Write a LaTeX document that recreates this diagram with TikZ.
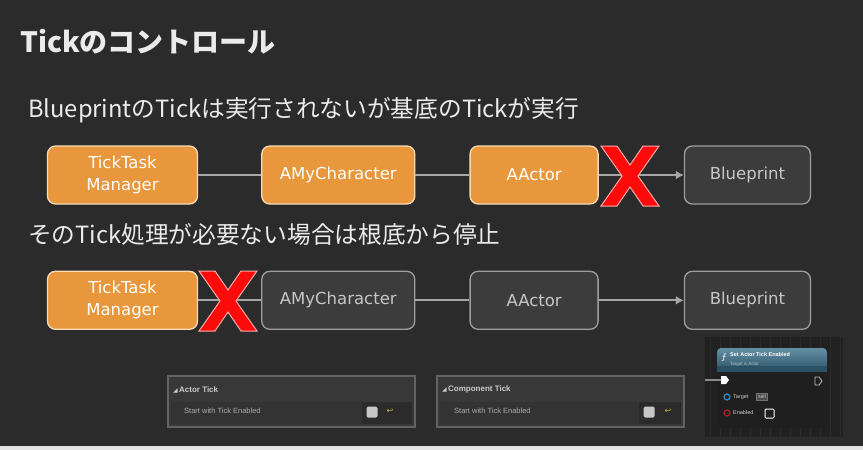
\documentclass[tikz,border=0pt]{standalone}
\usepackage{fontspec}
\setmainfont{Noto Sans CJK JP}
\newfontfamily\boxfont{DejaVu Sans}
\newfontfamily\uifont{Liberation Sans}
\usetikzlibrary{arrows.meta,positioning}
\definecolor{cBack}{HTML}{2B2B2B}
\definecolor{cOrange}{HTML}{E8973C}
\definecolor{cSlate}{HTML}{3C3C3C}
\definecolor{cWire}{HTML}{A6A6A6}
\definecolor{cRed}{HTML}{FF0A0A}
\definecolor{cPanel}{HTML}{383838}
\definecolor{cPanelEdge}{HTML}{626262}
\definecolor{cReset}{HTML}{C8B83C}
\definecolor{cBpHead}{HTML}{3D7490}
\definecolor{cPinBlue}{HTML}{2E8FC8}
\definecolor{cPinRed}{HTML}{B02020}

\begin{document}
\begin{tikzpicture}[x=1pt,y=-1pt,
  font=\boxfont,
  >={Latex[length=8pt,width=9pt]},
  tickbox/.style={rounded corners=8pt,align=center,minimum height=58pt,inner sep=2pt,
                  line width=1.3pt,font=\boxfont\fontsize{16.5}{22}\selectfont},
  hot/.style={tickbox,draw=cOrange!35!white,fill=cOrange,text=white},
  idle/.style={tickbox,draw=white!62!black,fill=cSlate,text=white!78!black},
  wire/.style={draw=cWire,line width=2.2pt},
  headline/.style={anchor=west,text=white!92!black,inner sep=0pt},
  nogo/.pic={\filldraw[draw=cRed!35!white,fill=cRed,line width=1pt]
     (-29,-30) -- (-13,-30) -- (0,-11) -- (13,-30) -- (29,-30) -- (8,0) -- (29,30)
     -- (13,30) -- (0,11) -- (-13,30) -- (-29,30) -- (-8,0) -- cycle;},
  panelhead/.style={anchor=west,inner sep=0pt,text=white!80!black,
                    font=\uifont\bfseries\fontsize{8}{9}\selectfont},
  panelrow/.style={anchor=west,inner sep=0pt,text=white!68!black,
                   font=\uifont\fontsize{7.5}{9}\selectfont},
  checkbox/.style={fill=white!78!black,rounded corners=1.5pt,minimum size=11pt,inner sep=0pt},
  bptext/.style={anchor=west,inner sep=0pt,text=white!80!black,font=\uifont\fontsize{4.5}{5}\selectfont}
]
\useasboundingbox (0,0) rectangle (863,450);
\fill[cBack] (0,0) rectangle (863,450);
\fill[white!90!black] (0,446) rectangle (863,450);

% headings
\node[headline,font=\fontsize{28}{32}\selectfont\bfseries] (title) at (20,42) {Tickのコントロール};
\node[headline,font=\fontsize{23.7}{28}\selectfont] (line1) at (28,110) {BlueprintのTickは実行されないが基底のTickが実行};
\node[headline,font=\fontsize{23.7}{28}\selectfont] (line2) at (28,234) {そのTick処理が必要ない場合は根底から停止};

% row 1
\node[hot,minimum width=150pt] (a1) at (122.5,175) {TickTask\\Manager};
\node[hot,minimum width=153pt,right=63pt of a1] (a2) {AMyCharacter};
\node[hot,minimum width=128pt,right=54pt of a2] (a3) {AActor};
\node[idle,minimum width=126pt,right=85pt of a3] (a4) {Blueprint};

\draw[wire] (a1) -- (a2);
\draw[wire] (a2) -- (a3);
\draw[wire,->] (a3) -- (a4);
\coordinate (stopa) at (630,176);
\pic at (stopa) {nogo};

% row 2
\node[hot,minimum width=150pt,below=66pt of a1] (b1) {TickTask\\Manager};
\node[idle,minimum width=153pt,below=66pt of a2] (b2) {AMyCharacter};
\node[idle,minimum width=128pt,below=66pt of a3] (b3) {AActor};
\node[idle,minimum width=126pt,below=66pt of a4] (b4) {Blueprint};

\draw[wire] (b1) -- (b2);
\draw[wire] (b2) -- (b3);
\draw[wire,->] (b3) -- (b4);
\coordinate (stopb) at (228,301);
\pic at (stopb) {nogo};

% details panels
\filldraw[fill=cPanel,draw=cPanelEdge,line width=2pt] (168,376) rectangle (415,427);
\fill[white!20!black] (171,402) rectangle (412,424);
\fill[white!17!black] (362,402) rectangle (412,424);
\node[panelhead] (acthead) at (173,390) {{\boxfont\fontsize{6}{7}\selectfont ◢}\,Actor Tick};
\node[panelrow] (actrow) at (184,411) {Start with Tick Enabled};
\node[checkbox] (actbox) at (372,412) {};
\node[text=cReset,inner sep=0pt,font=\boxfont\fontsize{8}{9}\selectfont] (actreset) at (390,411) {↩};

\filldraw[fill=cPanel,draw=cPanelEdge,line width=2pt] (437,376) rectangle (684,427);
\fill[white!20!black] (440,402) rectangle (681,424);
\fill[white!17!black] (639,402) rectangle (681,424);
\node[panelhead] (comphead) at (442,389) {{\boxfont\fontsize{6}{7}\selectfont ◢}\,Component Tick};
\node[panelrow] (comprow) at (454,411) {Start with Tick Enabled};
\node[checkbox] (compbox) at (649,412) {};
\node[text=cReset,inner sep=0pt,font=\boxfont\fontsize{8}{9}\selectfont] (compreset) at (668,411) {↩};

% blueprint node
\fill[white!13!black] (705,337) rectangle (843,437);
\draw[white!17!black,line width=0.5pt,step=10] (705,337) grid (843,437);
\fill[black!88!white,rounded corners=4pt] (717,348) rectangle (827,428);
\shade[top color=cBpHead!80!white,bottom color=cBpHead!70!black,rounded corners=4pt] (717,348) rectangle (827,372);
\fill[cBpHead!70!black] (717,366) rectangle (827,372);
\node[inner sep=0pt,text=white,font=\itshape\fontsize{9}{9}\selectfont] (bpf) at (724,358) {ƒ};
\node[bptext,text=white,font=\uifont\bfseries\fontsize{5.5}{6}\selectfont] (bptitle) at (730,355) {Set Actor Tick Enabled};
\node[bptext,text=cBpHead!45!white] (bpsub) at (730,364) {Target is Actor};
\coordinate (bpwire) at (705,380);
\coordinate (bpexec) at (721,380);
\draw[white!55!black,line width=1.5pt] (bpwire) -- (bpexec);
\fill[white] (721,376) -- (726,376) -- (729,380) -- (726,384) -- (721,384) -- cycle;
\draw[white!75!black,line width=0.8pt] (815,377) -- (819,377) -- (822,381) -- (819,385) -- (815,385) -- cycle;
\draw[cPinBlue,line width=1.2pt] (727,397) circle (3);
\node[bptext,font=\uifont\fontsize{5.5}{6}\selectfont] (bptarget) at (733,397) {Target};
\node[draw=white!45!black,fill=black!70!white,inner sep=1.5pt,text=white!80!black,
      font=\uifont\fontsize{5}{6}\selectfont] (bpself) at (762,397) {self};
\draw[cPinRed,line width=1.2pt] (727,413) circle (3);
\node[bptext,font=\uifont\fontsize{5.5}{6}\selectfont] (bpenabled) at (733,413) {Enabled};
\draw[white,line width=1pt,rounded corners=1pt] (765,409) rectangle (774,418);
\end{tikzpicture}
\end{document}
